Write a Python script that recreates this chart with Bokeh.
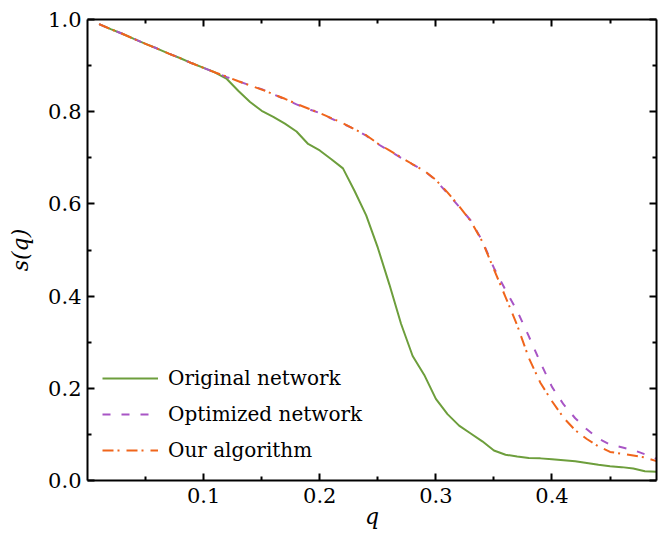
from bokeh.plotting import figure
from bokeh.models import Range1d, LinearAxis, FixedTicker, PrintfTickFormatter, CustomJSTickFormatter, Legend, LegendItem
from bokeh.embed import file_html
from bokeh.resources import INLINE

q = [round(0.01 * i, 2) for i in range(1, 50)]

original = [0.990, 0.979, 0.969, 0.958, 0.947, 0.937, 0.926, 0.916, 0.905, 0.895,
            0.885, 0.871, 0.845, 0.821, 0.802, 0.789, 0.774, 0.757, 0.730, 0.716,
            0.697, 0.677, 0.628, 0.575, 0.505, 0.425, 0.340, 0.270, 0.229, 0.177,
            0.144, 0.119, 0.102, 0.085, 0.065, 0.056, 0.052, 0.049, 0.048, 0.046,
            0.044, 0.042, 0.038, 0.034, 0.031, 0.029, 0.026, 0.020, 0.019]

optimized = [0.990, 0.979, 0.969, 0.958, 0.947, 0.937, 0.926, 0.916, 0.905, 0.895,
             0.885, 0.875, 0.866, 0.857, 0.849, 0.838, 0.827, 0.816, 0.806, 0.797,
             0.785, 0.774, 0.762, 0.748, 0.730, 0.715, 0.700, 0.686, 0.672, 0.651,
             0.623, 0.594, 0.564, 0.520, 0.461, 0.413, 0.368, 0.313, 0.256, 0.203,
             0.165, 0.135, 0.111, 0.091, 0.078, 0.072, 0.066, 0.057, 0.047]

ours = [0.990, 0.979, 0.969, 0.958, 0.947, 0.937, 0.926, 0.916, 0.905, 0.895,
        0.885, 0.876, 0.866, 0.857, 0.848, 0.838, 0.828, 0.817, 0.807, 0.797,
        0.786, 0.775, 0.762, 0.749, 0.731, 0.716, 0.701, 0.686, 0.672, 0.652,
        0.625, 0.595, 0.563, 0.518, 0.458, 0.398, 0.337, 0.266, 0.212, 0.172,
        0.136, 0.109, 0.090, 0.074, 0.062, 0.058, 0.054, 0.050, 0.042]

x_ticks = [0.1, 0.2, 0.3, 0.4]
x_minor = [0.05, 0.15, 0.25, 0.35, 0.45]
y_ticks = [0.0, 0.2, 0.4, 0.6, 0.8, 1.0]
y_minor = [0.1, 0.3, 0.5, 0.7, 0.9]

FONT = "DejaVu Serif"
GREEN = "#6d9e3c"
PURPLE = "#a855c5"
ORANGE = "#f0651b"

p = figure(width=664, height=535, output_backend="svg", toolbar_location=None,
           x_range=Range1d(0, 0.49), y_range=Range1d(0, 1.0),
           min_border_left=87, min_border_top=19, min_border_right=8, min_border_bottom=55,
           x_axis_label="q", y_axis_label="s(q)")
p.outline_line_color = None
p.xgrid.visible = False
p.ygrid.visible = False
p.background_fill_color = "white"

r1 = p.line(q, original, line_color=GREEN, line_width=2)
r2 = p.line(q, optimized, line_color=PURPLE, line_width=2, line_dash="8 11")
r3 = p.line(q, ours, line_color=ORANGE, line_width=2, line_dash="11 4 2 7")

def style(ax, ticks, minor, labels=True):
    ax.ticker = FixedTicker(ticks=ticks, minor_ticks=minor)
    ax.formatter = PrintfTickFormatter(format="%.1f")
    ax.axis_line_width = 2
    ax.axis_line_color = "black"
    ax.major_tick_line_width = 2
    ax.minor_tick_line_width = 2
    ax.major_tick_in = 7
    ax.major_tick_out = 0
    ax.minor_tick_in = 4
    ax.minor_tick_out = 0
    ax.major_label_text_font = FONT
    ax.major_label_text_font_size = "21px"
    ax.major_label_text_color = "black"
    ax.axis_label_text_font = FONT
    ax.axis_label_text_font_size = "22px"
    ax.axis_label_text_font_style = "italic"
    ax.axis_label_text_color = "black"
    if not labels:
        ax.formatter = CustomJSTickFormatter(code="return '';")
        ax.major_label_standoff = 0

style(p.xaxis[0], x_ticks, x_minor)
style(p.yaxis[0], y_ticks, y_minor)
p.xaxis[0].major_label_standoff = 7
p.xaxis[0].axis_label_standoff = -2
p.yaxis[0].major_label_standoff = 6
p.yaxis[0].axis_label_standoff = 12

top = LinearAxis()
style(top, x_ticks, x_minor, labels=False)
p.add_layout(top, "above")
right = LinearAxis()
style(right, y_ticks, y_minor, labels=False)
p.add_layout(right, "right")

legend = Legend(items=[LegendItem(label="Original network", renderers=[r1]),
                       LegendItem(label="Optimized network", renderers=[r2]),
                       LegendItem(label="Our algorithm", renderers=[r3])],
                location=(15, 16))
legend.label_text_font = FONT
legend.label_text_font_size = "20px"
legend.label_text_color = "black"
legend.glyph_width = 56
legend.glyph_height = 28
legend.label_standoff = 10
legend.spacing = 8
legend.padding = 0
legend.margin = 0
legend.border_line_alpha = 0
legend.background_fill_alpha = 0
p.add_layout(legend, "center")

open("out.html", "w").write(file_html(p, INLINE))
